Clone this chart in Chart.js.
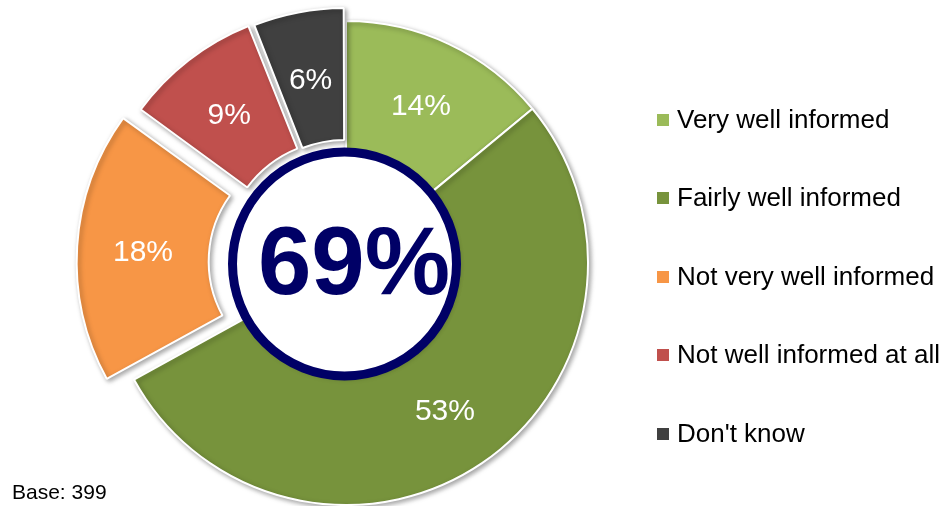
<!DOCTYPE html>
<html>
<head>
<meta charset="utf-8">
<script src="https://cdn.jsdelivr.net/npm/chart.js@4/dist/chart.umd.min.js"></script>
<style>
  html, body { margin: 0; padding: 0; background: #fff; }
  #wrap { position: relative; width: 947px; height: 506px; overflow: hidden;
          font-family: "Liberation Sans", Arial, sans-serif; }
  #chart { position: absolute; left: 0; top: 0; }
  #legend { position: absolute; left: 657px; top: 105.7px; margin: 0; padding: 0; list-style: none; }
  #legend li { position: relative; height: 78.5px; }
  #legend .sw { position: absolute; left: 0; top: 8.3px; width: 12px; height: 12px; }
  #legend .tx { position: absolute; left: 20px; top: 0; font-size: 26px; line-height: 26px;
                color: #000; white-space: nowrap; }
  #base { position: absolute; left: 12px; top: 481px; font-size: 21px; line-height: 21px; color: #000; }
</style>
</head>
<body>
<div id="wrap">
  <canvas id="chart" width="947" height="506"></canvas>
  <ul id="legend"></ul>
  <div id="base"></div>
</div>
<script>
// Survey answers and their shares (percent)
const categories = ['Very well informed', 'Fairly well informed', 'Not very well informed',
                    'Not well informed at all', "Don't know"];
const shares = [14, 53, 18, 9, 6];
const headline = '69%';
const baseNote = 'Base: 399';

const FONT = '"Liberation Sans", Arial, sans-serif';

// Soft drop shadow under the slices
const sliceShadow = {
  id: 'sliceShadow',
  beforeDatasetsDraw(chart) {
    const ctx = chart.ctx;
    ctx.save();
    ctx.shadowColor = 'rgba(0,0,0,0.35)';
    ctx.shadowBlur = 5;
    ctx.shadowOffsetX = 2;
    ctx.shadowOffsetY = 2;
  },
  afterDatasetsDraw(chart) {
    chart.ctx.restore();
  }
};

// Center badge with the headline figure, plus the value labels on each slice
const badgeAndLabels = {
  id: 'badgeAndLabels',
  afterDatasetsDraw(chart) {
    const ctx = chart.ctx;
    const arcs = chart.getDatasetMeta(0).data;
    const cx = arcs[0].x, cy = arcs[0].y;
    const r = arcs[0].innerRadius + 2;

    ctx.save();
    ctx.beginPath();
    ctx.arc(cx - 1.5, cy + 1, r, 0, Math.PI * 2);
    ctx.fillStyle = '#ffffff';
    ctx.shadowColor = 'rgba(0,0,0,0.3)';
    ctx.shadowBlur = 6;
    ctx.shadowOffsetX = 1;
    ctx.shadowOffsetY = 2;
    ctx.fill();
    ctx.shadowColor = 'transparent';
    ctx.lineWidth = 9;
    ctx.strokeStyle = '#000066';
    ctx.stroke();

    ctx.fillStyle = '#000066';
    ctx.font = 'bold 96px ' + FONT;
    ctx.textAlign = 'center';
    ctx.textBaseline = 'middle';
    ctx.fillText(headline, cx + 8, cy + 4.5);

    ctx.fillStyle = '#ffffff';
    ctx.font = '30px ' + FONT;
    const values = chart.data.datasets[0].data;
    arcs.forEach((arc, i) => {
      const p = arc.getProps(['x', 'y', 'startAngle', 'endAngle', 'innerRadius', 'outerRadius', 'circumference']);
      const shift = (arc.options.offset || 0) / 4;
      const grow = shift * (1 - Math.sin(Math.min(Math.PI, p.circumference)));
      const mid = (p.startAngle + p.endAngle) / 2;
      const rr = shift + grow + (p.innerRadius + p.outerRadius) / 2;
      ctx.fillText(values[i] + '%', p.x + Math.cos(mid) * rr, p.y + Math.sin(mid) * rr + 3);
    });
    ctx.restore();
  }
};

const chart = new Chart(document.getElementById('chart'), {
  type: 'doughnut',
  data: {
    labels: categories,
    datasets: [{
      data: shares,
      backgroundColor: ['#9BBB59', '#77933C', '#F79646', '#C0504D', '#404040'],
      borderColor: '#ffffff',
      borderWidth: 2,
      offset: [0, 0, 100, 40, 32],
      clip: false
    }]
  },
  options: {
    responsive: false,
    animation: false,
    events: [],
    radius: 242,
    cutout: '45.45%',
    layout: { padding: { left: 0, right: 255, top: 20, bottom: 0 } },
    plugins: {
      legend: { display: false },
      tooltip: { enabled: false }
    }
  },
  plugins: [sliceShadow, badgeAndLabels]
});

// Legend built from the chart's own legend items
const items = Chart.overrides.doughnut.plugins.legend.labels.generateLabels(chart);
const list = document.getElementById('legend');
items.forEach(it => {
  const li = document.createElement('li');
  const sw = document.createElement('span');
  sw.className = 'sw';
  sw.style.background = it.fillStyle;
  const tx = document.createElement('span');
  tx.className = 'tx';
  tx.textContent = it.text;
  li.appendChild(sw);
  li.appendChild(tx);
  list.appendChild(li);
});
document.getElementById('base').textContent = baseNote;
</script>
</body>
</html>
